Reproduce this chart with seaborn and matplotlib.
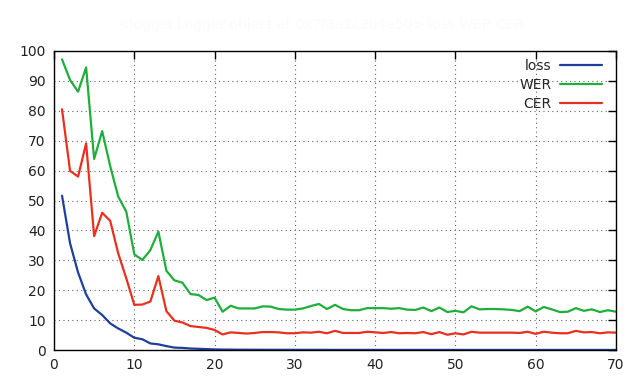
import numpy as np
import pandas as pd
import matplotlib
matplotlib.use("Agg")
import matplotlib.pyplot as plt
import seaborn as sns
from matplotlib.lines import Line2D

epochs = list(range(1, 71))

loss = [51.6, 35.7, 25.9, 18.6, 13.9, 11.7, 8.9, 7.2, 5.8, 4.1,
        3.6, 2.2, 1.9, 1.3, 0.8, 0.7, 0.5, 0.4, 0.3, 0.2,
        0.15, 0.12, 0.1, 0.1, 0.08, 0.08, 0.07, 0.07, 0.06, 0.06,
        0.05, 0.05, 0.05, 0.05, 0.04, 0.04, 0.04, 0.04, 0.04, 0.04,
        0.03, 0.03, 0.03, 0.03, 0.03, 0.03, 0.03, 0.03, 0.03, 0.03,
        0.02, 0.02, 0.02, 0.02, 0.02, 0.02, 0.02, 0.02, 0.02, 0.02,
        0.02, 0.02, 0.02, 0.02, 0.02, 0.02, 0.02, 0.02, 0.02, 0.02]

wer = [97.2, 90.3, 86.4, 94.5, 63.9, 73.2, 61.5, 51.3, 46.3, 32.0,
       30.1, 33.4, 39.6, 26.5, 23.3, 22.5, 18.7, 18.4, 16.7, 17.5,
       12.8, 14.8, 13.9, 13.9, 13.9, 14.6, 14.5, 13.7, 13.5, 13.5,
       13.9, 14.7, 15.4, 13.7, 15.1, 13.7, 13.3, 13.3, 14.0, 14.0,
       14.0, 13.8, 14.0, 13.5, 13.4, 14.2, 13.0, 14.2, 12.7, 13.1,
       12.6, 14.6, 13.6, 13.7, 13.7, 13.6, 13.4, 13.0, 14.5, 12.9,
       14.4, 13.6, 12.7, 12.8, 14.0, 13.1, 13.6, 12.7, 13.3, 12.8]

cer = [80.5, 59.9, 58.0, 69.1, 38.1, 45.9, 43.2, 32.3, 24.0, 15.1,
       15.2, 16.2, 24.7, 13.0, 9.8, 9.2, 8.0, 7.7, 7.4, 6.7,
       5.2, 5.9, 5.7, 5.5, 5.7, 6.0, 6.0, 5.9, 5.6, 5.6,
       5.9, 5.8, 6.1, 5.6, 6.4, 5.7, 5.7, 5.7, 6.1, 5.9,
       5.7, 6.0, 5.6, 5.7, 5.6, 6.0, 5.3, 6.0, 5.1, 5.6,
       5.2, 6.1, 5.8, 5.8, 5.8, 5.8, 5.8, 5.7, 6.1, 5.4,
       6.1, 5.8, 5.6, 5.6, 6.4, 5.9, 6.0, 5.6, 5.9, 5.8]

series_names = ["loss", "WER", "CER"]
colors = {"loss": "#1f3f9c", "WER": "#1eae3c", "CER": "#e8301e"}

df = pd.DataFrame({
    "epoch": epochs * 3,
    "value": loss + wer + cer,
    "series": ["loss"] * 70 + ["WER"] * 70 + ["CER"] * 70,
})

sns.set_style("white")
plt.rcParams["font.family"] = ["DejaVu Sans"]

fig = plt.figure(figsize=(6.4, 3.84), dpi=100)
ax = fig.add_axes([54 / 640, 1 - 350 / 384, (616 - 54) / 640, (350 - 51) / 384])

sns.lineplot(data=df, x="epoch", y="value", hue="series", hue_order=series_names,
             palette=colors, linewidth=1.6, ax=ax, legend=False)

ax.set_xlim(0, 70)
ax.set_ylim(0, 100)
ax.set_xticks(range(0, 71, 10))
ax.set_yticks(range(0, 101, 10))
ax.set_xlabel("")
ax.set_ylabel("")
ax.grid(True, linestyle=(0, (1, 3)), color="#666666", linewidth=0.8)
ax.tick_params(direction="in", length=6, width=1, top=True, right=True,
               labelsize=10, colors="black", pad=6)
ax.tick_params(axis="x", labelcolor="#222222")
ax.tick_params(axis="y", labelcolor="#222222")
for s in ax.spines.values():
    s.set_color("black")
    s.set_linewidth(1.0)

handles = [Line2D([], [], color=colors[n], linewidth=1.6) for n in series_names]
leg = ax.legend(handles, series_names, loc="upper right", markerfirst=False,
                frameon=False, fontsize=10, handlelength=3.0, handletextpad=0.6,
                labelspacing=0.35, borderaxespad=0.3,
                bbox_to_anchor=(0.992, 1.005))
for t in leg.get_texts():
    t.set_ha("right")
leg._legend_box.align = "right"

fig.text(118 / 640, 1 - 25 / 384, "<logger.Logger object at 0x7f3a1c2b4e50> loss WER CER",
         color="#fbfbfb", fontsize=10, ha="left", va="center")

fig.savefig("out.png", dpi=100, facecolor="white")
